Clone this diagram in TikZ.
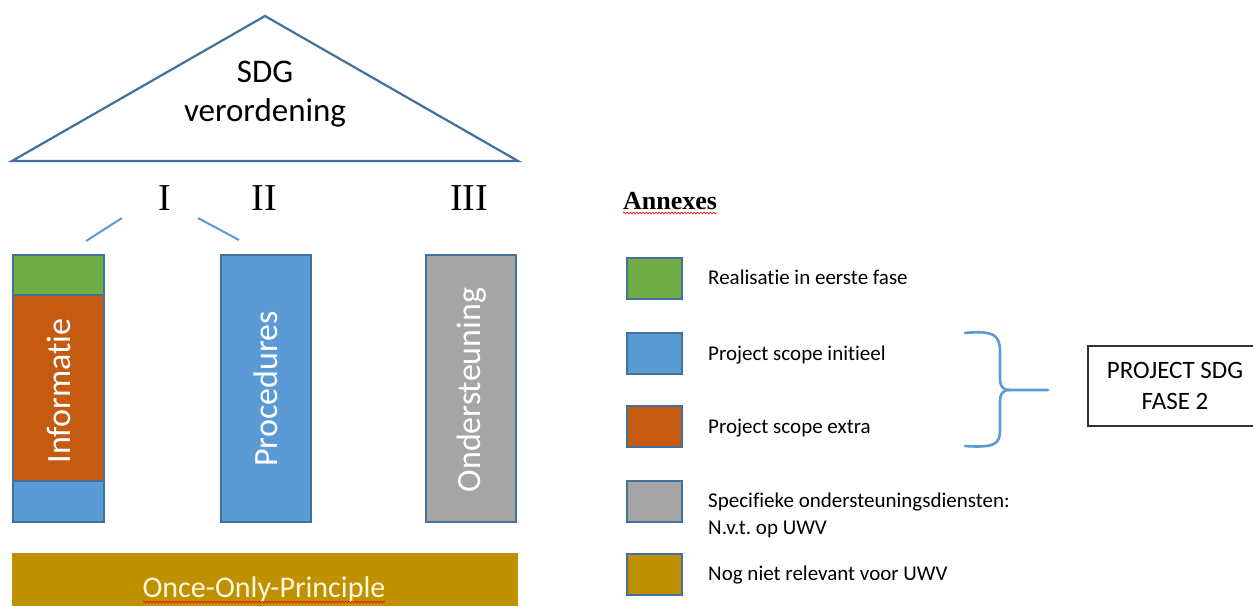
\documentclass[tikz,border=0pt]{standalone}
\usepackage{fontspec}
\setmainfont{Carlito}[Ligatures=NoCommon]
\newfontfamily\romanfont{Liberation Serif}
\usetikzlibrary{decorations.pathmorphing}
\frenchspacing
\definecolor{outl}{HTML}{41719C}
\definecolor{cgreen}{HTML}{70AD47}
\definecolor{corange}{HTML}{C55A11}
\definecolor{cblue}{HTML}{5B9BD5}
\definecolor{cgray}{HTML}{A5A5A5}
\definecolor{cgold}{HTML}{BF9000}
\definecolor{cream}{HTML}{FFF6DC}
\tikzset{
  blk/.style={draw=outl, line width=2pt},
  legsq/.style={draw=outl, line width=2.4pt, minimum width=55pt, minimum height=41pt, inner sep=0pt, anchor=north west},
  coltext/.style={text=white, rotate=90, font=\fontsize{34}{40}\selectfont},
  legtext/.style={anchor=base west, font=\fontsize{21}{25}\selectfont, inner sep=0pt},
  numeral/.style={anchor=base, font=\romanfont\fontsize{38}{44}\selectfont, inner sep=0pt},
  squiggle/.style={red, line width=0.6pt, decorate, decoration={snake, amplitude=0.9pt, segment length=3.2pt}},
  brace/.style={cblue, line width=2.6pt, line cap=round},
  tick/.style={cblue, line width=2pt}
}
\begin{document}
\begin{tikzpicture}[x=1pt,y=-1pt]
\useasboundingbox (0,0) rectangle (1253,606);
\fill[white] (0,0) rectangle (1253,606);

% roof
\coordinate (tl) at (12,161);
\coordinate (tt) at (265,16);
\coordinate (tr) at (518,161);
\draw[outl, line width=2.2pt, line join=miter] (tl) -- (tt) -- (tr) -- cycle;
\node[anchor=base, font=\fontsize{33}{40}\selectfont, inner sep=0pt] (sdg) at (265,82) {SDG};
\node[anchor=base, font=\fontsize{33}{40}\selectfont, inner sep=0pt] (verord) at (265,121) {verordening};

% numerals
\node[numeral] (n1) at (165,210) {I};
\node[numeral] (n2) at (264,210) {II};
\node[numeral] (n3) at (469,210) {III};
\coordinate (a1) at (122,218);
\coordinate (a2) at (86,241);
\coordinate (b1) at (198,218);
\coordinate (b2) at (239,240);
\draw[tick] (a1) -- (a2);
\draw[tick] (b1) -- (b2);

% column 1
\draw[blk, fill=cgreen] (13,255) rectangle (104,295);
\draw[blk, fill=corange] (13,295) rectangle (104,481);
\draw[blk, fill=cblue] (13,481) rectangle (104,522);
\node[coltext] (info) at (59,391) {Informatie};
% column 2
\draw[blk, fill=cblue] (221,255) rectangle (311,522);
\node[coltext] (proc) at (266,389) {Procedures};
% column 3
\draw[blk, fill=cgray] (426,255) rectangle (516,522);
\node[coltext] (onder) at (472,390) {Ondersteuning};

% base bar
\fill[cgold] (12,553) rectangle (518,606);
\node[anchor=base, text=cream, font=\fontsize{30}{36}\selectfont, inner sep=0pt] (oop) at (264,597) {Once-Only-Principle};
\draw[squiggle] (143,602) -- (385,602);

% legend
\node[anchor=base west, font=\romanfont\bfseries\fontsize{26}{30}\selectfont, inner sep=0pt] (annex) at (623,209) {Annexes};
\draw[squiggle] (623,213) -- (717,213);

\node[legsq, fill=cgreen] (l1) at (626,257) {};
\node[legsq, fill=cblue] (l2) at (626,332) {};
\node[legsq, fill=corange] (l3) at (626,405) {};
\node[legsq, fill=cgray] (l4) at (626,480) {};
\node[legsq, fill=cgold] (l5) at (626,553) {};

\node[legtext] (t1) at (708,284) {Realisatie in eerste fase};
\node[legtext] (t2) at (708,360) {Project scope initieel};
\node[legtext] (t3) at (708,433) {Project scope extra};
\node[legtext] (t4) at (708,507) {Specifieke ondersteuningsdiensten:};
\node[legtext] (t4b) at (708,534) {N.v.t. op UWV};
\node[legtext] (t5) at (708,580) {Nog niet relevant voor UWV};

% brace
\coordinate (tip) at (1048,390);
\draw[brace] (965,333) .. controls (995,330) and (1000,336) .. (1000,352) -- (1000,378) .. controls (1000,386) and (1002,390) .. (1010,390) -- (tip);
\draw[brace] (1010,390) .. controls (1002,390) and (1000,394) .. (1000,402) -- (1000,430) .. controls (1000,444) and (995,448) .. (965,446);

% project box
\begin{scope}
\clip (0,0) rectangle (1253,606);
\node[draw=black!80, line width=1.2pt, minimum width=174pt, minimum height=80pt, align=center, font=\fontsize{25}{31}\selectfont] (proj) at (1175,386) {PROJECT SDG\\FASE 2};
\end{scope}
\end{tikzpicture}
\end{document}
